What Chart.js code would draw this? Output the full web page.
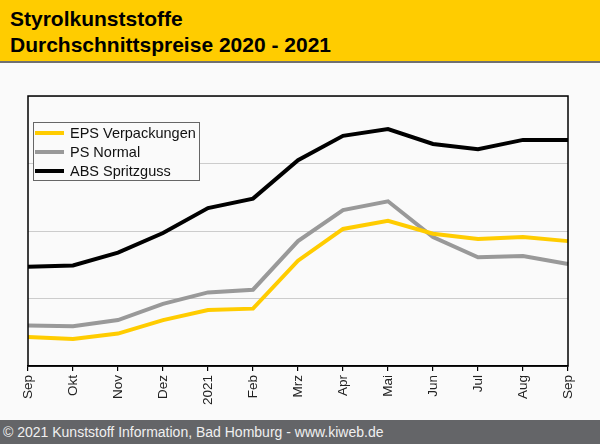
<!DOCTYPE html>
<html>
<head>
<meta charset="utf-8">
<script src="https://cdn.jsdelivr.net/npm/chart.js@4/dist/chart.umd.min.js"></script>
<style>
	body { margin: 0; width: 600px; height: 444px; overflow: hidden; background: #fafafa; font-family: "Liberation Sans", Arial, sans-serif; }
	#head { height: 61px; background: #ffcc00; border-bottom: 2px solid #707070; }
	#head div { position: absolute; left: 10px; font-weight: bold; font-size: 21px; color: #000; }
	#plot { position: relative; width: 600px; height: 357px; }
	#foot { height: 24px; background: #646568; color: #f0f0f0; font-size: 14px; line-height: 24px; padding-left: 3px; }
</style>
</head>
<body>
<div id="head">
	<div style="top:7px">Styrolkunststoffe</div>
	<div style="top:33px">Durchschnittspreise 2020 - 2021</div>
</div>
<div id="plot"><canvas id="chart"></canvas></div>
<div id="foot">© 2021 Kunststoff Information, Bad Homburg - www.kiweb.de</div>
<script>
//======================================================================================================
// Data (relative price level)
//======================================================================================================
var months  = ["Sep", "Okt", "Nov", "Dez", "2021", "Feb", "Mrz", "Apr", "Mai", "Jun", "Jul", "Aug", "Sep"];
var seriesNames = ["EPS Verpackungen", "PS Normal", "ABS Spritzguss"];
var eps = [0.43, 0.40, 0.48, 0.68, 0.83, 0.85, 1.56, 2.03, 2.15, 1.96, 1.88, 1.91, 1.85];
var ps  = [0.60, 0.59, 0.68, 0.92, 1.09, 1.13, 1.85, 2.31, 2.44, 1.91, 1.61, 1.63, 1.51];
var abs = [1.47, 1.49, 1.68, 1.97, 2.34, 2.48, 3.05, 3.41, 3.51, 3.29, 3.21, 3.35, 3.35];
var colors = ["#ffcc00", "#999999", "#000000"];

// Frame round the plot area
var framePlugin = {
	id: 'frame',
	afterDraw: function(chart) {
		var a = chart.chartArea, c = chart.ctx;
		c.save();
		c.strokeStyle = '#000';
		c.lineWidth = 1.5;
		c.strokeRect(a.left, a.top, a.right - a.left, a.bottom - a.top);
		c.restore();
	}
};

// Legend box inside the plot
var legendPlugin = {
	id: 'boxLegend',
	afterDraw: function(chart) {
		var c = chart.ctx;
		var x = 33, y = 59, w = 166, h = 58;
		c.save();
		c.fillStyle = '#fafafa';
		c.fillRect(x, y, w, h);
		c.strokeStyle = '#666';
		c.lineWidth = 1;
		c.strokeRect(x + 0.5, y + 0.5, w, h);
		c.font = '14.5px "Liberation Sans", Arial, sans-serif';
		c.textBaseline = 'middle';
		chart.data.datasets.forEach(function(ds, i) {
			var ly = y + 11 + i * 19;
			c.strokeStyle = ds.borderColor;
			c.lineWidth = 4;
			c.beginPath();
			c.moveTo(x + 2, ly);
			c.lineTo(x + 31, ly);
			c.stroke();
			c.fillStyle = '#111';
			c.fillText(ds.label, x + 37, ly + 1);
		});
		c.restore();
	}
};

var lineSets = [eps, ps, abs].map(function(vals, i) {
	return {
		label: seriesNames[i],
		data: vals,
		borderColor: colors[i],
		backgroundColor: colors[i],
		borderWidth: 4,
		pointRadius: 0,
		tension: 0,
		fill: false
	};
});

var chart = new Chart(document.getElementById("chart"), {
	type: 'line',
	data: { labels: months, datasets: lineSets },
	options: {
		responsive: true,
		maintainAspectRatio: false,
		animation: false,
		layout: { padding: { top: 33, right: 32, left: 0, bottom: 0 } },
		plugins: { legend: { display: false }, tooltip: { enabled: false } },
		scales: {
			x: {
				offset: false,
				afterFit: function(s) { s.height = 54; },
				grid: { drawOnChartArea: false, drawTicks: true, tickLength: 5, color: '#000', lineWidth: 1.2 },
				border: { color: '#000', width: 1.5 },
				ticks: {
					autoSkip: false, minRotation: 90, maxRotation: 90, padding: 4,
					color: '#222', font: { family: '"Liberation Sans", Arial, sans-serif', size: 13.5 }
				}
			},
			y: {
				min: 0, max: 4,
				afterFit: function(s) { s.width = 28; },
				grid: { color: '#cccccc', lineWidth: 1, drawTicks: false },
				border: { display: false },
				ticks: { display: false, stepSize: 1 }
			}
		}
	},
	plugins: [framePlugin, legendPlugin]
});
</script>
</body>
</html>
